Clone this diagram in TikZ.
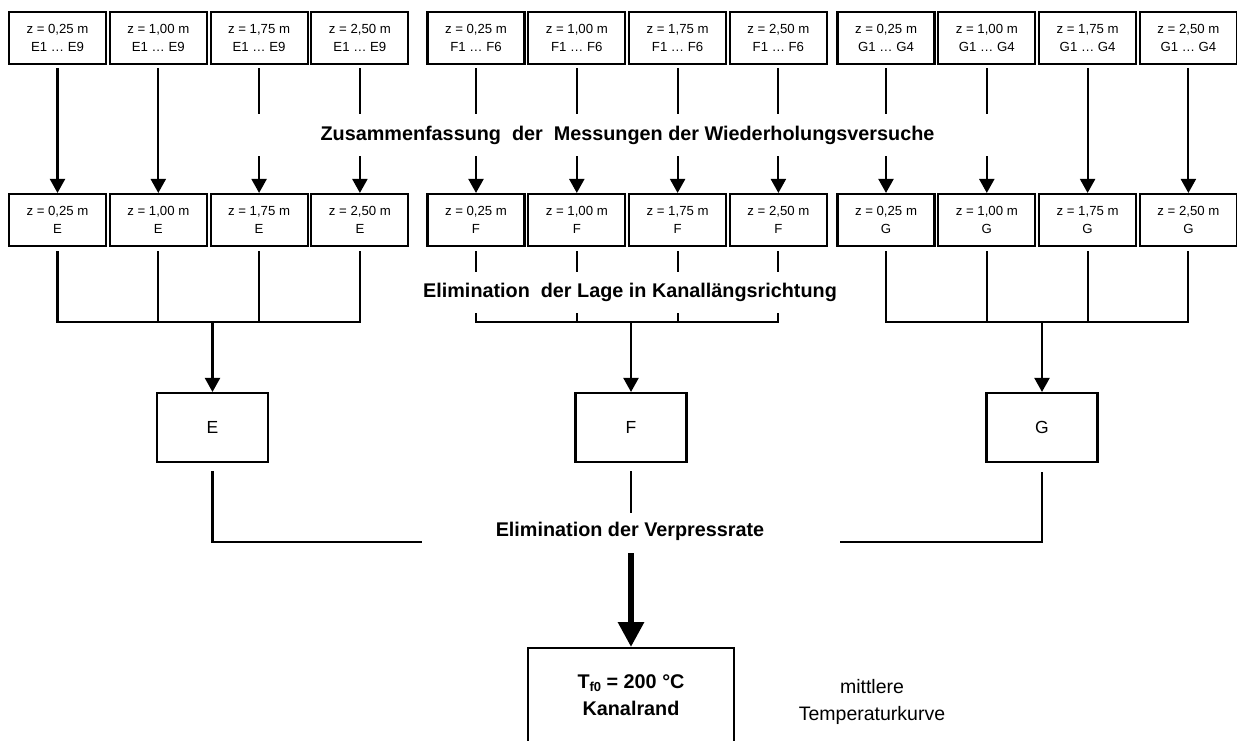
\documentclass[tikz,border=0pt]{standalone}
\usepackage{fontspec}
\setmainfont{Liberation Sans}
\usetikzlibrary{arrows.meta,calc}
\begin{document}
\begin{tikzpicture}[x=1pt,y=-1pt,
  sbox/.style={draw,line width=2.1pt,minimum width=97pt,minimum height=52pt,inner sep=0pt,align=center,font=\fontsize{13.2}{18.5}\selectfont},
  gbox/.style={draw,line width=2.1pt,minimum width=111pt,minimum height=69pt,inner sep=0pt,font=\fontsize{17.5}{20}\selectfont},
  conn/.style={line width=2.1pt},
  arr/.style={conn,-{Triangle[width=15pt,length=14pt]}},
  lbl/.style={font=\fontsize{19.8}{24}\selectfont\bfseries,inner sep=0pt},
  plain/.style={font=\fontsize{19.5}{27}\selectfont,inner sep=0pt,align=center},
]
\useasboundingbox (0,0) rectangle (1237,740);
\clip (0,0) rectangle (1237,740);

% top and middle rows
\foreach \g/\gx/\n in {E/57.5/9,F/476/6,G/886/4}{
  \foreach \i/\z in {1/{0,25},2/{1,00},3/{1,75},4/{2,50}}{
    \node[sbox] (t\g\i) at ({\gx+100.8*(\i-1)},38) {z = \z\ m\\\g1 … \g\n};
    \node[sbox] (m\g\i) at ({\gx+100.8*(\i-1)},220) {z = \z\ m\\\g};
  }
}

% helper levels
\coordinate (gapA) at (0,114);
\coordinate (gapB) at (0,156);
\coordinate (lageA) at (0,272);
\coordinate (lageB) at (0,313);
\coordinate (barY) at (0,322);

% labels
\node[lbl] (zus) at (627.5,135) {Zusammenfassung\ \ der\ \ Messungen der Wiederholungsversuche};
\node[lbl] (lage) at (630,292) {Elimination\ \ der Lage in Kanallängsrichtung};

% top -> middle
\foreach \g/\i in {E/1,E/2,G/3,G/4}
  \draw[arr] ($(t\g\i.south)+(0,3)$) -- (m\g\i.north);
\foreach \g/\i in {E/3,E/4,F/1,F/2,F/3,F/4,G/1,G/2}{
  \draw[conn] ($(t\g\i.south)+(0,3)$) -- (t\g\i.south |- gapA);
  \draw[arr] (m\g\i.north |- gapB) -- (m\g\i.north);
}

% group boxes
\node[gbox] (E) at (212.5,427.5) {E};
\node[gbox] (F) at (631,427.5) {F};
\node[gbox] (G) at (1042,427.5) {G};

% middle -> bars
\foreach \g in {E,G}{
  \foreach \i in {1,...,4}
    \draw[conn] ($(m\g\i.south)+(0,4)$) -- (m\g\i.south |- barY);
}
\foreach \i in {1,...,4}{
  \draw[conn] ($(mF\i.south)+(0,4)$) -- (mF\i.south |- lageA);
  \draw[conn] (mF\i.south |- lageB) -- (mF\i.south |- barY);
}
\foreach \g in {E,F,G}{
  \draw[conn,line cap=rect] (m\g1.south |- barY) -- (m\g4.south |- barY);
  \draw[arr] (\g.north |- barY) -- (\g.north);
}

% bottom merge
\coordinate (endE) at (422,542);
\coordinate (endG) at (840,542);
\coordinate (endF) at (631,513);
\coordinate (thickS) at (631,553);
\draw[conn] ($(E.south)+(0,8)$) -- (E.south |- endE) -- (endE);
\draw[conn] ($(G.south)+(0,9)$) -- (G.south |- endG) -- (endG);
\draw[conn] ($(F.south)+(0,8)$) -- (endF);
\node[lbl] (vp) at (630,531) {Elimination der Verpressrate};

% result
\node[draw,line width=2.1pt,minimum width=206pt,minimum height=94pt,inner sep=0pt,anchor=north,align=center,
      font=\fontsize{19.8}{27}\selectfont\bfseries] (R) at (631,647)
      {T\raisebox{-3pt}{\fontsize{13}{13}\selectfont f0} = 200 °C\\Kanalrand};
\draw[line width=6pt,-{Triangle[width=25pt,length=25pt]}] (thickS) -- (R.north);

\node[plain] (mt) at (872,701.5) {mittlere\\Temperaturkurve};
\end{tikzpicture}
\end{document}
